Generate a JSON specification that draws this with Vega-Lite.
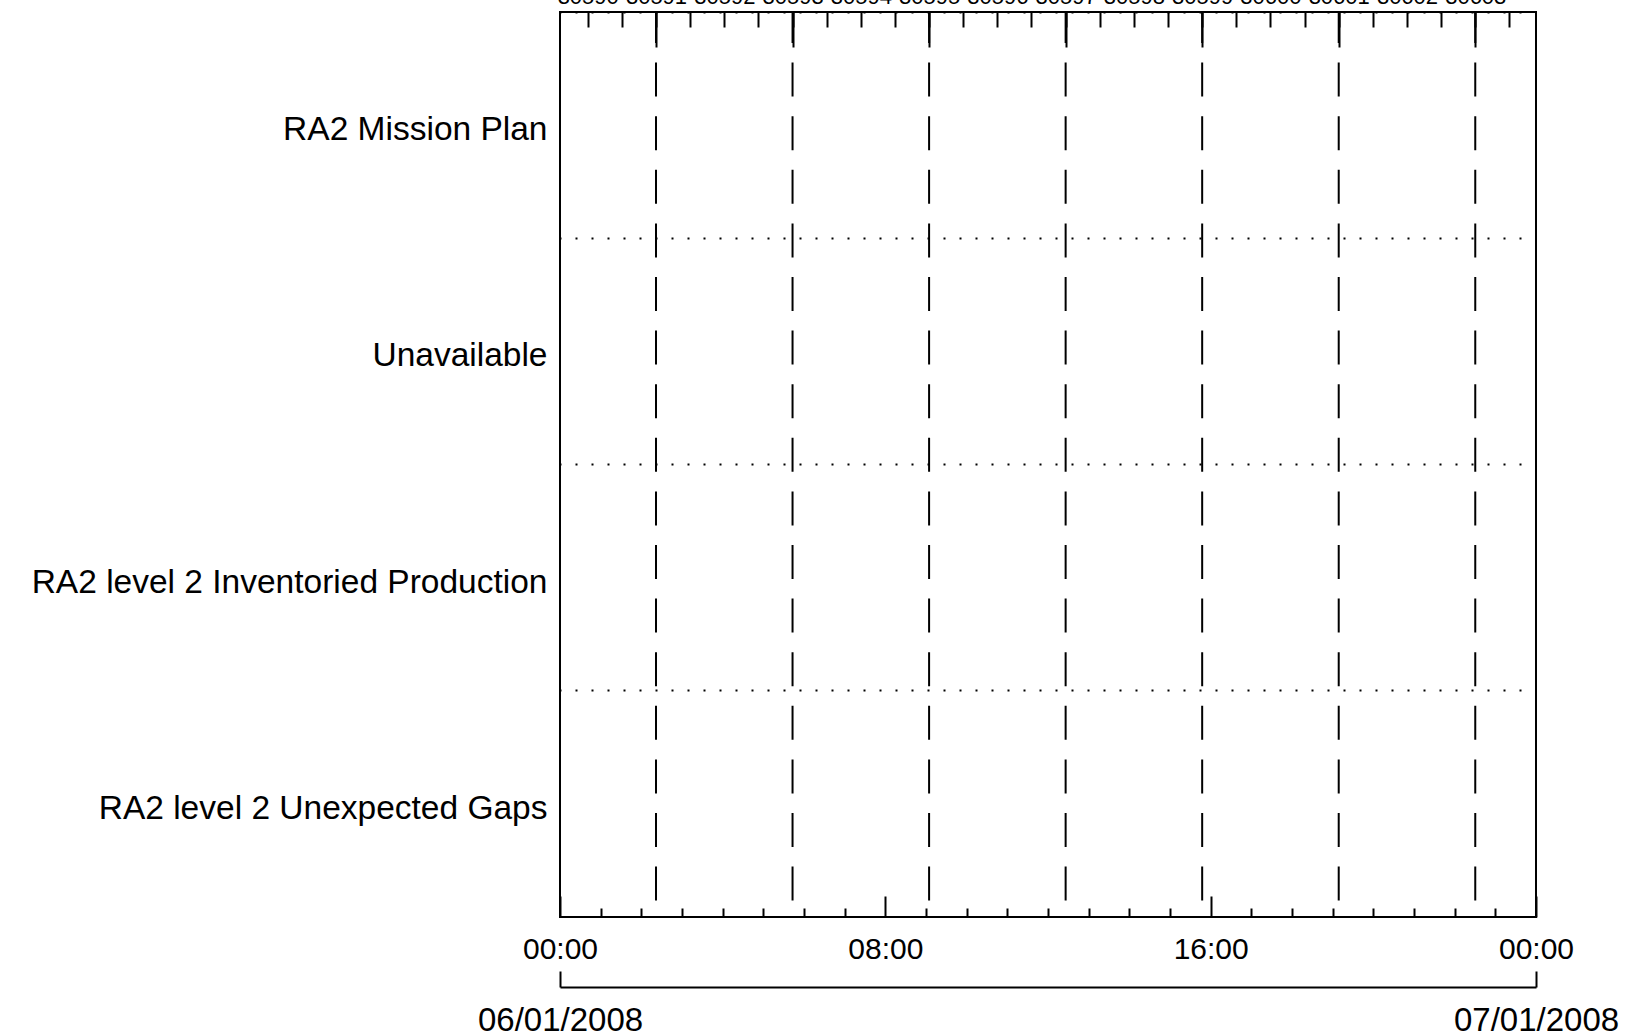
{
  "$schema": "https://vega.github.io/schema/vega-lite/v6.json",
  "width": 976,
  "height": 905,
  "autosize": "none",
  "padding": {"left": 560, "top": 12, "right": 92, "bottom": 119},
  "background": "white",
  "config": {
    "view": {"stroke": "black", "strokeWidth": 2},
    "font": "Liberation Sans",
    "axis": {"labelFont": "Liberation Sans", "labelColor": "black", "tickColor": "black", "domainColor": "black", "tickWidth": 2, "domainWidth": 2, "labelFlush": false, "labelOverlap": false, "grid": false}
  },
  "datasets": {
    "orbits": [
      {"t": "2008-01-06T02:21:39Z", "orbit": 30591},
      {"t": "2008-01-06T05:43:06Z", "orbit": 30593},
      {"t": "2008-01-06T09:04:34Z", "orbit": 30595},
      {"t": "2008-01-06T12:26:01Z", "orbit": 30597},
      {"t": "2008-01-06T15:47:28Z", "orbit": 30599},
      {"t": "2008-01-06T19:08:56Z", "orbit": 30601},
      {"t": "2008-01-06T22:30:23Z", "orbit": 30603}
    ],
    "rows": [
      {"task": "RA2 Mission Plan"},
      {"task": "Unavailable"},
      {"task": "RA2 level 2 Inventoried Production"},
      {"task": "RA2 level 2 Unexpected Gaps"}
    ]
  },
  "layer": [
    {
      "data": {"name": "orbits"},
      "mark": {"type": "rule", "color": "black", "strokeWidth": 2, "strokeDash": [34, 19.6], "strokeDashOffset": 3},
      "encoding": {
        "x": {"field": "t", "type": "temporal",
          "scale": {"type": "utc", "nice": false, "domain": [{"year": 2008, "month": 1, "date": 6, "utc": true}, {"year": 2008, "month": 1, "date": 7, "utc": true}]},
          "axis": {"orient": "bottom", "title": null, "domain": false, "labels": false, "tickSize": -9,
            "values": [1199581200000, 1199584800000, 1199588400000, 1199592000000, 1199595600000, 1199599200000, 1199602800000, 1199610000000, 1199613600000, 1199617200000, 1199620800000, 1199624400000, 1199628000000, 1199631600000, 1199638800000, 1199642400000, 1199646000000, 1199649600000, 1199653200000, 1199656800000, 1199660400000]}}
      }
    },
    {
      "data": {"name": "orbits"},
      "mark": {"type": "rule", "opacity": 0},
      "encoding": {
        "x": {"field": "t", "type": "temporal",
          "scale": {"type": "utc", "nice": false, "domain": [{"year": 2008, "month": 1, "date": 6, "utc": true}, {"year": 2008, "month": 1, "date": 7, "utc": true}]},
          "axis": {"orient": "bottom", "title": null, "domain": false, "tickSize": -21, "format": "%H:%M", "labelFontSize": 30, "labelPadding": 38,
            "values": [1199577600000, 1199606400000, 1199635200000, 1199664000000]}}
      }
    },
    {
      "data": {"name": "orbits"},
      "mark": {"type": "rule", "opacity": 0},
      "encoding": {
        "x": {"field": "t", "type": "temporal",
          "scale": {"type": "utc", "nice": false, "domain": [{"year": 2008, "month": 1, "date": 6, "utc": true}, {"year": 2008, "month": 1, "date": 7, "utc": true}]},
          "axis": {"orient": "bottom", "title": null, "domain": true, "offset": 70, "tickSize": -16, "format": "%d/%m/%Y", "labelFontSize": 33, "labelPadding": 33,
            "values": [1199577600000, 1199664000000]}}
      }
    },
    {
      "data": {"name": "orbits"},
      "mark": {"type": "rule", "opacity": 0},
      "encoding": {
        "x": {"field": "t", "type": "temporal",
          "scale": {"type": "utc", "nice": false, "domain": [{"year": 2008, "month": 1, "date": 6, "utc": true}, {"year": 2008, "month": 1, "date": 7, "utc": true}]},
          "axis": {"orient": "top", "title": null, "domain": false, "labels": false, "tickSize": -15,
            "values": [1199580055000, 1199583077000, 1199586099000, 1199589121000, 1199592143000, 1199595164000, 1199598186000, 1199601208000, 1199604230000, 1199607252000, 1199610274000, 1199613295000, 1199616317000, 1199619339000, 1199622361000, 1199625383000, 1199628405000, 1199631426000, 1199634448000, 1199637470000, 1199640492000, 1199643514000, 1199646536000, 1199649558000, 1199652579000, 1199655601000, 1199658623000, 1199661645000]}}
      }
    },
    {
      "data": {"name": "orbits"},
      "mark": {"type": "rule", "opacity": 0},
      "encoding": {
        "x": {"field": "t", "type": "temporal",
          "scale": {"type": "utc", "nice": false, "domain": [{"year": 2008, "month": 1, "date": 6, "utc": true}, {"year": 2008, "month": 1, "date": 7, "utc": true}]},
          "axis": {"orient": "top", "title": null, "domain": false, "labels": false, "tickSize": -35,
            "values": [1199586099000, 1199598186000, 1199610274000, 1199622361000, 1199634448000, 1199646536000, 1199658623000]}}
      }
    },
    {
      "data": {"name": "orbits"},
      "mark": {"type": "rule", "opacity": 0},
      "encoding": {
        "x": {"field": "t", "type": "temporal",
          "scale": {"type": "utc", "nice": false, "domain": [{"year": 2008, "month": 1, "date": 6, "utc": true}, {"year": 2008, "month": 1, "date": 7, "utc": true}]},
          "axis": {"orient": "top", "title": null, "domain": false, "ticks": false, "labelFontSize": 22, "labelPadding": 9, "labelBaseline": "alphabetic",
            "values": [1199580055000, 1199586099000, 1199592143000, 1199598186000, 1199604230000, 1199610274000, 1199616317000, 1199622361000, 1199628405000, 1199634448000, 1199640492000, 1199646536000, 1199652579000, 1199658623000],
            "labelExpr": "'' + (30590 + round((datum.value - 1199580055000) / 6043800))"}}
      }
    },
    {
      "data": {"name": "rows"},
      "mark": {"type": "point", "opacity": 0},
      "encoding": {
        "y": {"field": "task", "type": "nominal", "sort": null,
          "scale": {"type": "band", "paddingInner": 0, "paddingOuter": 0},
          "axis": {"orient": "left", "title": null, "domain": false, "ticks": false, "labelFontSize": 33.5, "labelPadding": 13, "labelOffset": 5, "labelLimit": 1000, "labelAlign": "right", "labelBaseline": "middle",
            "grid": true, "bandPosition": 0, "gridColor": "black", "gridWidth": 2, "gridDash": [2, 14], "gridDashOffset": 1, "gridOpacity": 1}}
      }
    }
  ],
  "resolve": {"axis": {"x": "independent"}}
}
